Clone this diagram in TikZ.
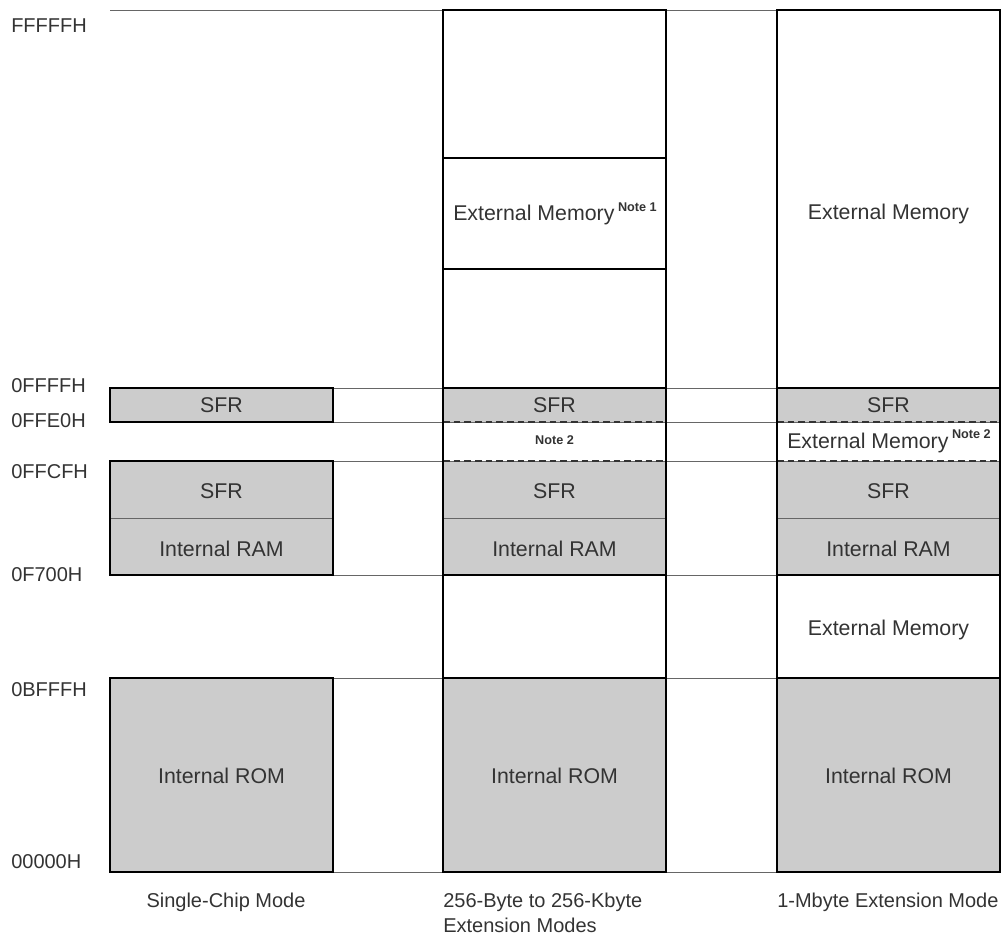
\documentclass[tikz,border=0pt]{standalone}
\usepackage{fontspec}
\setmainfont{Liberation Sans}
\newcommand{\notefont}{\fontsize{9.5}{10}\selectfont\bfseries}
\begin{document}
\begin{tikzpicture}[x=0.75pt,y=-0.75pt,
  txt/.style={text=black!80, font=\fontsize{16}{19}\selectfont, inner sep=0pt},
  addr/.style={txt, anchor=west, font=\fontsize{15}{18}\selectfont},
  mode/.style={txt, font=\fontsize{15}{18}\selectfont},
  note/.style={font=\notefont},
  thinline/.style={draw=black!60, line width=0.6pt},
  thickline/.style={draw=black, line width=1.8pt},
  dashline/.style={draw=black!80, line width=0.8pt, dash pattern=on 5pt off 3pt},
  memfill/.style={fill=black!20}]
\useasboundingbox (0,0) rectangle (1006,935);
% fills
\foreach \x in {110,443,777}{
  \fill[memfill] (\x,388) rectangle ++(223,34);
  \fill[memfill] (\x,461) rectangle ++(223,114);
  \fill[memfill] (\x,678) rectangle ++(223,194);
}
% thin address lines
\foreach \y in {10,388,422,461,575,678,872}{
  \draw[thinline] (110,\y) -- (1000,\y);
}
\foreach \x in {110,443,777}{
  \draw[thinline] (\x,518) -- ++(223,0);
}
% column 1
\draw[thickline] (110,388) rectangle (333,422);
\draw[thickline] (110,461) rectangle (333,575);
\draw[thickline] (110,678) rectangle (333,872);
% column 2
\draw[dashline] (443,422) -- (666,422);
\draw[dashline] (443,461) -- (666,461);
\draw[thickline] (443,10) rectangle (666,872);
\foreach \y in {158,269,388,575,678}{\draw[thickline] (443,\y) -- (666,\y);}
% column 3
\draw[dashline] (777,422) -- (1000,422);
\draw[dashline] (777,461) -- (1000,461);
\draw[thickline] (777,10) rectangle (1000,872);
\foreach \y in {388,575,678}{\draw[thickline] (777,\y) -- (1000,\y);}
% address labels
\node[addr] (aF) at (11,26) {FFFFFH};
\node[addr] (a1) at (11,386) {0FFFFH};
\node[addr] (a2) at (11,421) {0FFE0H};
\node[addr] (a3) at (11,472) {0FFCFH};
\node[addr] (a4) at (11,575) {0F700H};
\node[addr] (a5) at (11,690) {0BFFFH};
\node[addr] (a6) at (11,862) {00000H};
% column 1 text
\node[txt] (c1sfr) at (221.5,405) {SFR};
\node[txt] (c1sfr2) at (221.5,491) {SFR};
\node[txt] (c1ram) at (221.5,549) {Internal RAM};
\node[txt] (c1rom) at (221.5,776) {Internal ROM};
% column 2 text
\node[txt] (c2ext) at (555,214) {External Memory\,\raisebox{0.45em}{\notefont Note 1}};
\node[txt] (c2sfr) at (554.5,405) {SFR};
\node[txt,note] (c2note) at (554.5,440) {Note 2};
\node[txt] (c2sfr2) at (554.5,491) {SFR};
\node[txt] (c2ram) at (554.5,549) {Internal RAM};
\node[txt] (c2rom) at (554.5,776) {Internal ROM};
% column 3 text
\node[txt] (c3ext) at (888.5,214) {External Memory};
\node[txt] (c3sfr) at (888.5,405) {SFR};
\node[txt] (c3ext2) at (889,441) {External Memory\,\raisebox{0.45em}{\notefont Note 2}};
\node[txt] (c3sfr2) at (888.5,491) {SFR};
\node[txt] (c3ram) at (888.5,549) {Internal RAM};
\node[txt] (c3ext3) at (888.5,630) {External Memory};
\node[txt] (c3rom) at (888.5,776) {Internal ROM};
% mode labels
\node[mode] (m1) at (226,902) {Single-Chip Mode};
\node[mode, anchor=west] (m2a) at (443,902) {256-Byte to 256-Kbyte};
\node[mode, anchor=west] (m2b) at (443,925) {Extension Modes};
\node[mode, anchor=west] (m3) at (777,902) {1-Mbyte Extension Mode};
\end{tikzpicture}
\end{document}
